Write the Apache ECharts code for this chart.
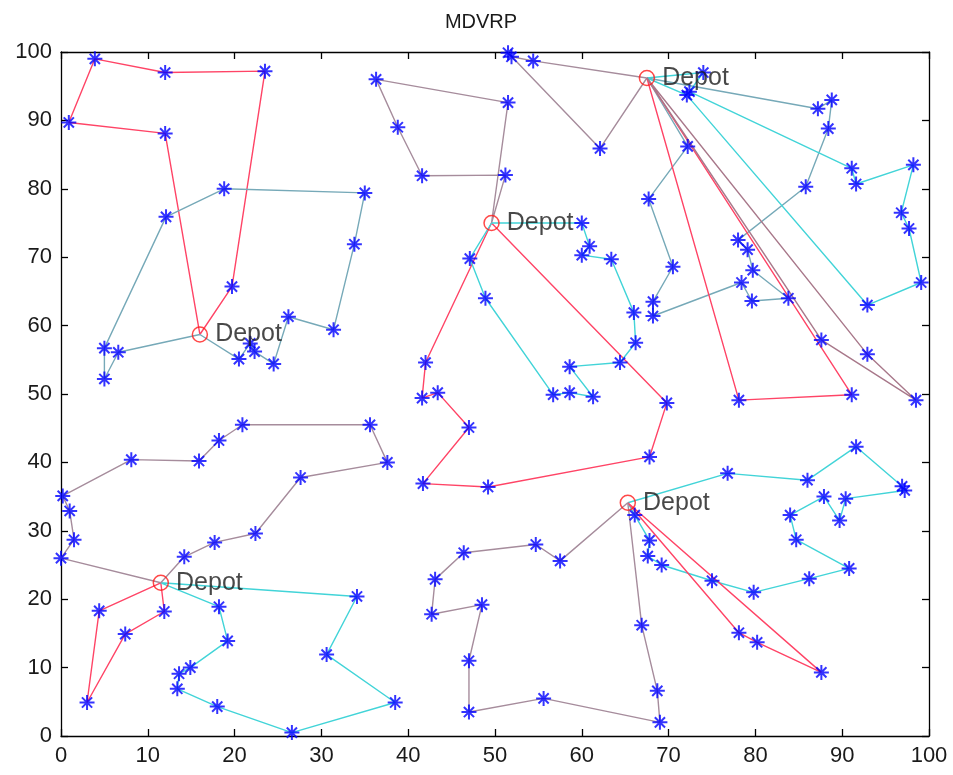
<!DOCTYPE html>
<html><head><meta charset="utf-8">
<script src="https://cdn.jsdelivr.net/npm/echarts@6/dist/echarts.min.js"></script>
<style>html,body{margin:0;padding:0;background:#fff}#c{width:953px;height:775px}</style>
</head><body><div id="c"></div>
<script>
// ---- data ----
const titleText = 'MDVRP';
const depotLabel = 'Depot';
const xTicks = [0,10,20,30,40,50,60,70,80,90,100];
const yTicks = [0,10,20,30,40,50,60,70,80,90,100];
const depots = [[16.0,58.7],[49.6,75.0],[67.5,96.2],[65.3,34.1],[11.5,22.4]];

// depot 0
const d0_red  = [[12.0,88.1],[0.9,89.7],[3.9,99.0],[12.0,97.0],[23.5,97.2],[19.7,65.7]];
const d0_teal = [[20.5,55.1],[21.8,57.4],[22.3,56.2],[24.5,54.4],[26.2,61.3],[31.4,59.4],[33.8,71.9],[35.0,79.4],[18.8,80.0],[12.1,75.9],[5.0,56.7],[5.0,52.2],[6.6,56.1]];
// depot 1
const d1_mauve = [[51.2,82.0],[41.6,81.9],[38.8,89.0],[36.3,96.0],[51.5,92.6]];
const d1_red   = [[42.0,54.6],[41.6,49.4],[43.4,50.2],[47.0,45.1],[41.7,36.9],[49.2,36.4],[67.8,40.8],[69.8,48.7]];
const d1_cyan  = [[60.0,75.0],[60.9,71.6],[60.0,70.3],[63.4,69.7],[66.0,61.9],[66.2,57.5],[64.4,54.6],[58.6,54.0],[61.3,49.6],[58.6,50.2],[56.7,49.9],[48.9,64.0],[47.1,69.8]];
// depot 2
const d2_mauve = [[54.4,98.7],[51.9,99.3],[51.5,99.9],[62.1,85.9]];
const d2_teal  = [[87.2,91.7],[88.8,93.0],[88.4,88.8],[85.8,80.3],[78.0,72.5],[79.1,71.1],[79.7,68.1],[83.8,64.0],[79.6,63.6],[78.4,66.3],[68.2,61.4],[68.2,63.5],[70.5,68.6],[67.7,78.5],[72.2,86.2]];
const d2_cyan  = [[74.0,97.0],[72.4,94.2],[91.1,83.0],[91.6,80.7],[98.2,83.5],[96.8,76.5],[97.7,74.2],[99.1,66.3],[92.9,63.0],[72.1,93.7]];
const d2_red   = [[78.1,49.1],[91.1,49.9]];
const d2_mauve2= [[92.9,55.8],[98.5,49.1],[87.6,57.9]];
// depot 3
const d3_cyan  = [[76.8,38.4],[86.0,37.4],[91.6,42.3],[96.9,36.5],[97.2,35.9],[90.4,34.7],[89.7,31.5],[87.9,35.0],[84.0,32.3],[84.7,28.7],[90.8,24.5],[86.2,23.0],[79.8,21.0],[75.0,22.7],[69.2,25.0],[67.6,26.3],[67.8,28.6],[66.1,32.3]];
const d3_red   = [[78.1,15.1],[80.2,13.7],[87.6,9.3]];
const d3_mauve = [[66.9,16.2],[68.7,6.6],[69.0,2.0],[55.6,5.5],[47.0,3.5],[47.0,11.0],[48.5,19.2],[42.7,17.8],[43.1,22.9],[46.4,26.8],[54.7,28.0],[57.5,25.6]];
// depot 4
const d4_red   = [[4.4,18.3],[3.0,4.9],[7.4,14.9],[11.9,18.2]];
const d4_cyan  = [[34.1,20.4],[30.6,11.9],[38.5,4.9],[26.6,0.5],[18.0,4.3],[13.4,6.9],[13.6,9.1],[14.9,10.0],[19.2,13.9],[18.2,18.9]];
const d4_mauve = [[14.2,26.2],[17.7,28.3],[22.4,29.6],[27.6,37.8],[37.6,40.0],[35.6,45.5],[20.9,45.5],[18.2,43.2],[15.9,40.2],[8.1,40.4],[0.2,35.1],[1.0,32.9],[1.5,28.7],[0.0,26.0]];

// ---- styles ----
const C = {red:'#ff4466', mauve:'#a68c9c', mauve2:'#a8788a', cyan:'#42d4d8', teal:'#76a9b8'};
const routes = [
  [0,d0_red,'red'],[0,d0_teal,'teal'],
  [1,d1_mauve,'mauve'],[1,d1_red,'red'],[1,d1_cyan,'cyan'],
  [2,d2_mauve,'mauve'],[2,d2_teal,'teal'],[2,d2_cyan,'cyan'],[2,d2_red,'red'],[2,d2_mauve2,'mauve2'],
  [3,d3_cyan,'cyan'],[3,d3_red,'red'],[3,d3_mauve,'mauve'],
  [4,d4_red,'red'],[4,d4_cyan,'cyan'],[4,d4_mauve,'mauve']
];

const series = [];
const customers = [];
routes.forEach(([d,pts,col])=>{
  const dp = depots[d];
  series.push({type:'line', data:[dp].concat(pts,[dp]), showSymbol:false, symbol:'none',
    lineStyle:{color:C[col], width:1.4}, z:2, silent:true});
  pts.forEach(p=>customers.push(p));
});
const starPath = 'path://M5,0L5,10M0,5L10,5M1.6,1.6L8.4,8.4M1.6,8.4L8.4,1.6';
series.push({type:'scatter', data:customers, symbol:starPath, symbolSize:15,
  itemStyle:{color:'rgba(0,0,0,0)', borderColor:'#0000ff', borderWidth:2}, z:5});
series.push({type:'scatter', data:depots, symbol:'circle', symbolSize:15,
  itemStyle:{color:'rgba(0,0,0,0)', borderColor:'#ff1a1a', borderWidth:1.5}, z:6,
  label:{show:true, position:'right', distance:7, formatter:depotLabel, fontSize:25,
    fontFamily:'Liberation Sans, Arial, sans-serif', color:'#1a1a1a'}});

const FONT = 'Liberation Sans, Arial, sans-serif';
const axBase = {type:'value', min:0, max:100, interval:10,
  axisLine:{onZero:false, lineStyle:{color:'#000', width:1.3}},
  axisTick:{inside:true, length:7, lineStyle:{color:'#000', width:1.3}},
  splitLine:{show:false}};
const chart = echarts.init(document.getElementById('c'), null, {renderer:'canvas'});
chart.setOption({
  animation:false,
  backgroundColor:'#fff',
  title:{text:titleText, left:476, top:7, textAlign:'center',
    textStyle:{fontSize:20, fontWeight:'normal', color:'#1a1a1a', fontFamily:FONT}},
  grid:{left:61, right:24, top:52, bottom:39},
  xAxis:[
    Object.assign({}, axBase, {position:'bottom',
      axisLabel:{fontSize:22, color:'#1a1a1a', fontFamily:FONT, margin:9,
        formatter:v=>xTicks.includes(v)?String(v):''}}),
    Object.assign({}, axBase, {position:'top', axisLabel:{show:false}})
  ],
  yAxis:[
    Object.assign({}, axBase, {position:'left',
      axisLabel:{fontSize:22, color:'#1a1a1a', fontFamily:FONT, margin:9,
        formatter:v=>yTicks.includes(v)?String(v):''}}),
    Object.assign({}, axBase, {position:'right', axisLabel:{show:false}})
  ],
  series:series
});
</script></body></html>
